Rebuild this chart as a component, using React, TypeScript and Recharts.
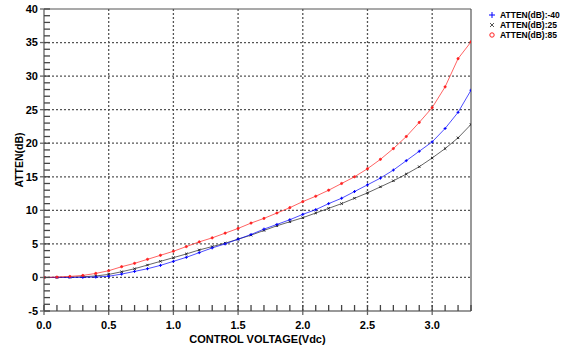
import React from 'react';
import { LineChart, Line, XAxis, YAxis, ReferenceLine, CartesianGrid } from 'recharts';

const voltage = [0.0, 0.1, 0.2, 0.3, 0.4, 0.5, 0.6, 0.7, 0.8, 0.9, 1.0, 1.1, 1.2, 1.3, 1.4, 1.5, 1.6, 1.7, 1.8, 1.9, 2.0, 2.1, 2.2, 2.3, 2.4, 2.5, 2.6, 2.7, 2.8, 2.9, 3.0, 3.1, 3.2, 3.3];
const attenM40 = [0, 0, 0.01, 0.02, 0.06, 0.18, 0.5, 0.9, 1.3, 1.8, 2.4, 3.0, 3.7, 4.4, 5.0, 5.7, 6.4, 7.2, 7.9, 8.6, 9.4, 10.1, 11.0, 11.8, 12.8, 13.8, 14.8, 16.0, 17.4, 18.8, 20.2, 22.2, 24.6, 27.9];
const atten25 = [0, 0.01, 0.04, 0.1, 0.22, 0.45, 0.85, 1.3, 1.85, 2.4, 2.95, 3.5, 4.1, 4.6, 5.1, 5.7, 6.3, 7.0, 7.7, 8.3, 8.9, 9.6, 10.3, 11.0, 11.8, 12.6, 13.5, 14.4, 15.4, 16.5, 17.8, 19.2, 20.8, 22.8];
const atten85 = [0, 0.05, 0.15, 0.3, 0.6, 1.0, 1.6, 2.1, 2.7, 3.3, 3.9, 4.6, 5.3, 5.9, 6.6, 7.3, 8.1, 8.8, 9.6, 10.4, 11.3, 12.1, 13.0, 14.0, 15.0, 16.2, 17.6, 19.2, 21.0, 23.1, 25.3, 28.4, 32.6, 35.1];

const seriesNames = ['ATTEN(dB):-40', 'ATTEN(dB):25', 'ATTEN(dB):85'];
const seriesColors = ['#0000ff', '#222222', '#ff2020'];

const xMajorTicks = [0.0, 0.5, 1.0, 1.5, 2.0, 2.5, 3.0];
const xMinorTicks = voltage;
const yMajorTicks = [-5, 0, 5, 10, 15, 20, 25, 30, 35, 40];
const yMinorTicks = [-5, -4, -3, -2, -1, 0, 1, 2, 3, 4, 5, 6, 7, 8, 9, 10, 11, 12, 13, 14, 15, 16, 17, 18, 19, 20, 21, 22, 23, 24, 25, 26, 27, 28, 29, 30, 31, 32, 33, 34, 35, 36, 37, 38, 39, 40];
const xGridValues = [0.5, 1.0, 1.5, 2.0, 2.5, 3.0];
const yGridValues = [0, 5, 10, 15, 20, 25, 30, 35];

const xLabel = 'CONTROL VOLTAGE(Vdc)';
const yLabel = 'ATTEN(dB)';

const data = voltage.map((v, i) => ({ v, s0: attenM40[i], s1: atten25[i], s2: atten85[i] }));

const FONT = '"Liberation Sans", Arial, sans-serif';

const isIn = (arr: number[], v: number) => arr.some((t) => Math.abs(t - v) < 1e-6);

const XTick = (p: any) => {
  const { x, y, payload } = p;
  const v = payload.value as number;
  const major = isIn(xMajorTicks, v);
  return (
    <g>
      <path d={`M${x},${y}V${y - 6}`} stroke="#444" strokeWidth={1.3} />
      {major && <path d={`M${x},${y}V${y + 4}`} stroke="#666" strokeWidth={1.3} />}
      {major && (
        <text x={x} y={y + 10} dy="0.71em" textAnchor="middle" fontSize={11} fontWeight="bold" fill="#000" fontFamily={FONT}>
          {v.toFixed(1)}
        </text>
      )}
    </g>
  );
};

const YTick = (p: any) => {
  const { x, y, payload } = p;
  const v = payload.value as number;
  const major = isIn(yMajorTicks, v);
  return (
    <g>
      <path d={`M${x},${y}H${x + 6}`} stroke="#444" strokeWidth={1.3} />
      {major && <path d={`M${x - 4},${y}H${x}`} stroke="#666" strokeWidth={1.3} />}
      {major && (
        <text x={x - 6} y={y} dy="0.355em" textAnchor="end" fontSize={11} fontWeight="bold" fill="#000" fontFamily={FONT}>
          {String(v)}
        </text>
      )}
    </g>
  );
};

const PlusDot = (p: any) => {
  const { cx, cy, index } = p;
  if (cx == null || cy == null) return <g key={index} />;
  return <path key={index} d={`M${cx - 1.5},${cy}H${cx + 1.5}M${cx},${cy - 1.5}V${cy + 1.5}`} stroke={seriesColors[0]} strokeWidth={1} fill="none" />;
};
const CrossDot = (p: any) => {
  const { cx, cy, index } = p;
  if (cx == null || cy == null) return <g key={index} />;
  return <path key={index} d={`M${cx - 1.2},${cy - 1.2}L${cx + 1.2},${cy + 1.2}M${cx - 1.2},${cy + 1.2}L${cx + 1.2},${cy - 1.2}`} stroke={seriesColors[1]} strokeWidth={1} fill="none" />;
};
const CircleDot = (p: any) => {
  const { cx, cy, index } = p;
  if (cx == null || cy == null) return <g key={index} />;
  return <circle key={index} cx={cx} cy={cy} r={1.1} stroke={seriesColors[2]} strokeWidth={0.8} fill={seriesColors[2]} />;
};

const LegendSymbol = ({ i }: { i: number }) => {
  const c = seriesColors[i];
  return (
    <svg width={8} height={8} style={{ display: 'inline-block', verticalAlign: 'middle', marginRight: 4 }}>
      {i === 0 && <path d="M1,4H7M4,1V7" stroke={c} strokeWidth={1} />}
      {i === 1 && <path d="M2,2L6,6M2,6L6,2" stroke="#555" strokeWidth={1} />}
      {i === 2 && <circle cx={4} cy={4} r={2.2} stroke={c} strokeWidth={1} fill="none" />}
    </svg>
  );
};

export default function App() {
  return (
    <div style={{ position: 'absolute', left: 0, top: 0, width: 571, height: 349, background: '#fff' }}>
      <LineChart width={571} height={349} data={data} margin={{ top: 9, right: 100, left: 0, bottom: 0 }}>
        <CartesianGrid stroke="#555" strokeWidth={1.3} strokeDasharray="2 2" verticalValues={xGridValues} horizontalValues={yGridValues} />
        <XAxis dataKey="v" type="number" domain={[0, 3.3]} ticks={xMinorTicks} interval={0}
          height={38} tickSize={0} tickMargin={0} tick={XTick} tickLine={false}
          axisLine={{ stroke: '#777', strokeWidth: 1.5 }} allowDataOverflow
          label={{ value: xLabel, position: 'insideBottom', offset: 6, style: { fontSize: 11, fontWeight: 'bold', fill: '#000', fontFamily: FONT } }} />
        <YAxis type="number" domain={[-5, 40]} ticks={yMinorTicks} interval={0}
          width={44} tickSize={0} tickMargin={0} tick={YTick} tickLine={false}
          axisLine={{ stroke: '#777', strokeWidth: 1.5 }} allowDataOverflow
          label={{ value: yLabel, angle: -90, position: 'insideLeft', offset: 12, dx: 7, style: { textAnchor: 'middle', fontSize: 10.5, fontWeight: 'bold', fill: '#000', fontFamily: FONT } }} />
        <ReferenceLine y={40} stroke="#555" strokeWidth={1.2} />
        <ReferenceLine x={3.3} stroke="#555" strokeWidth={1.2} />
        <Line type="linear" dataKey="s1" name={seriesNames[1]} stroke={seriesColors[1]} strokeWidth={0.7} dot={CrossDot} isAnimationActive={false} />
        <Line type="linear" dataKey="s0" name={seriesNames[0]} stroke={seriesColors[0]} strokeWidth={0.7} dot={PlusDot} isAnimationActive={false} />
        <Line type="linear" dataKey="s2" name={seriesNames[2]} stroke={seriesColors[2]} strokeWidth={0.7} dot={CircleDot} isAnimationActive={false} />
      </LineChart>
      <div style={{ position: 'absolute', left: 488, top: 9, fontFamily: FONT, fontSize: 8.5, fontWeight: 'bold', lineHeight: '10px', color: '#000' }}>
        {seriesNames.map((n, i) => (
          <div key={n} style={{ whiteSpace: 'nowrap', height: 10 }}>
            <LegendSymbol i={i} />
            <span style={{ verticalAlign: 'middle' }}>{n}</span>
          </div>
        ))}
      </div>
    </div>
  );
}
